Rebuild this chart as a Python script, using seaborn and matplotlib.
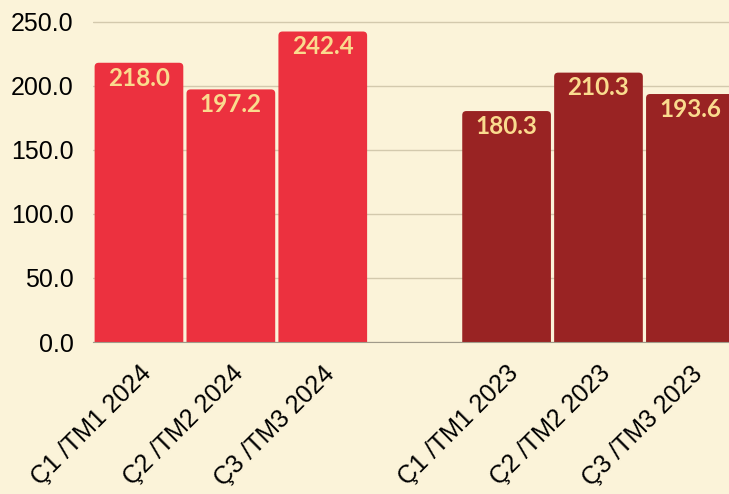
import pandas as pd
import matplotlib
matplotlib.use("Agg")
import matplotlib.pyplot as plt
import seaborn as sns
from matplotlib.patches import FancyBboxPatch

# ==== Data ====
labels_2024 = ["Ç1 /TM1 2024", "Ç2 /TM2 2024", "Ç3 /TM3 2024"]
values_2024 = [218.0, 197.2, 242.4]
labels_2023 = ["Ç1 /TM1 2023", "Ç2 /TM2 2023", "Ç3 /TM3 2023"]
values_2023 = [180.3, 210.3, 193.6]
spacer = " "

bg = "#fbf3d9"
red = "#ec313f"
dark_red = "#992323"
label_color = "#fadb8e"

df = pd.DataFrame({
    "period": labels_2024 + labels_2023,
    "value": values_2024 + values_2023,
    "year": ["2024"] * 3 + ["2023"] * 3,
})
order = labels_2024 + [spacer] + labels_2023

# ==== Plot ====
sns.set_style("white")
plt.rcParams["font.family"] = ["Liberation Sans", "DejaVu Sans"]

fig = plt.figure(figsize=(7.29, 4.94), dpi=100, facecolor=bg)
ax = fig.add_axes([93 / 729, 152 / 494, 636 / 729, 342 / 494])
ax.set_facecolor(bg)

sns.barplot(data=df, x="period", y="value", hue="year", order=order,
            palette={"2024": red, "2023": dark_red}, dodge=False, saturation=1,
            width=0.965, errorbar=None, legend=False, ax=ax)

ax.set_ylim(0, 267)
ax.set_xlim(-0.5, 6.42)

# rounded bar tops + value labels
old = list(ax.patches)
for p in old:
    x0, w, h = p.get_x(), p.get_width(), p.get_height()
    if h != h or h == 0:
        p.remove()
        continue
    fb = FancyBboxPatch((x0, -6), w, h + 6,
                        boxstyle="round,pad=0,rounding_size=0.045",
                        mutation_aspect=70, facecolor=p.get_facecolor(),
                        edgecolor="none", clip_on=True, zorder=2)
    ax.add_patch(fb)
    p.remove()
    ax.text(x0 + w / 2, h - 3, f"{h:.1f}", ha="center", va="top",
            fontsize=17.5, fontweight="bold", color=label_color,
            family=["Lato", "DejaVu Sans"], zorder=3)

ax.set_yticks([0, 50, 100, 150, 200, 250])
ax.set_yticklabels([f"{v:.1f}" for v in [0, 50, 100, 150, 200, 250]], fontsize=18, color="black")
ax.yaxis.grid(True, color="#d3c9ad", linewidth=1)
ax.set_axisbelow(True)
ax.tick_params(axis="y", length=0, pad=14)
ax.tick_params(axis="x", length=0, pad=14)
plt.setp(ax.get_xticklabels(), rotation=45, ha="right", rotation_mode="anchor",
         fontsize=18, color="black")
ax.set_xlabel("")
ax.set_ylabel("")
for s in ["top", "right", "left"]:
    ax.spines[s].set_visible(False)
ax.spines["bottom"].set_color("#a09a8a")
ax.spines["bottom"].set_zorder(4)

fig.savefig("out.png", dpi=100, facecolor=bg)
